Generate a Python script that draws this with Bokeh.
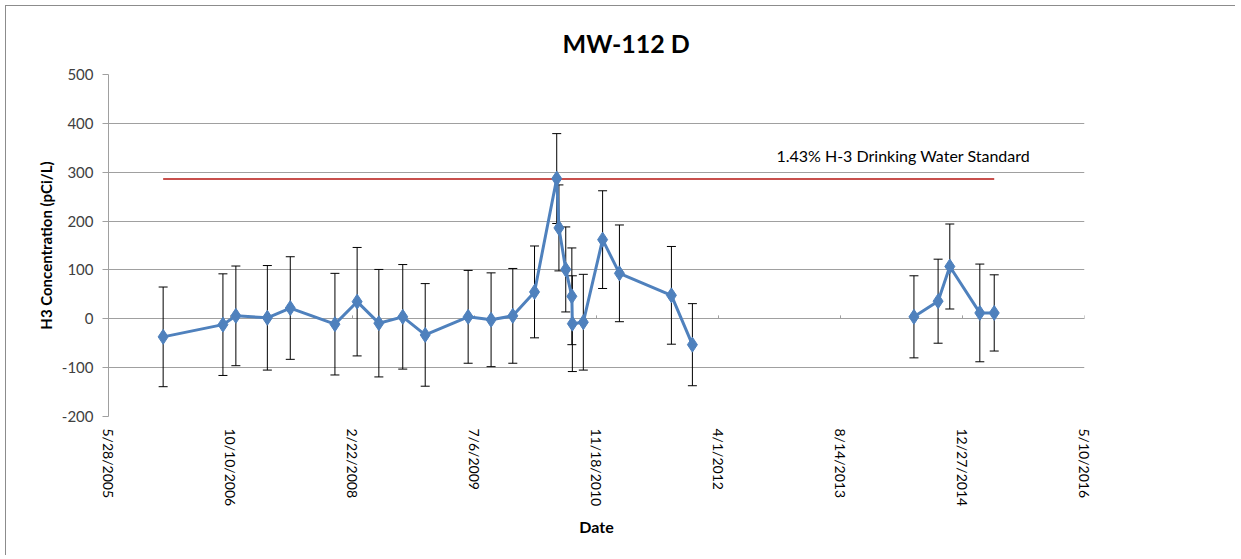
import numpy as np
import pandas as pd
from bokeh.plotting import figure
from bokeh.models import (ColumnDataSource, Whisker, TeeHead, Range1d, FixedTicker,
                          Label, CustomJSTickFormatter)
from bokeh.embed import file_html
from bokeh.resources import INLINE

# ---------------- data ----------------
title_text = "MW-112 D"
x_title = "Date"
y_title = "H3 Concentration (pCi/L)"
std_text = "1.43% H-3 Drinking  Water Standard"

sample_dates = ["2006-01-07", "2006-09-09", "2006-11-01", "2007-03-10", "2007-06-12",
                "2007-12-12", "2008-03-12", "2008-06-09", "2008-09-15", "2008-12-16",
                "2009-06-10", "2009-09-12", "2009-12-10", "2010-03-09", "2010-06-08",
                "2010-06-17", "2010-07-15", "2010-08-09", "2010-08-11", "2010-09-25",
                "2010-12-13", "2011-02-20", "2011-09-21", "2011-12-16",
                "2014-06-11", "2014-09-18", "2014-11-05", "2015-03-08", "2015-05-06"]
h3_values = [-37, -12, 6, 2, 22,
             -11, 35, -9, 4, -33,
             4, -2, 6, 55, 287,
             186, 101, 46, -10, -7,
             162, 93, 48, -53,
             4, 36, 107, 12, 12]
h3_errors = [102, 104, 102, 107, 105,
             104, 111, 110, 107, 105,
             95, 96, 97, 94, 92,
             88, 87, 99, 98, 98,
             100, 99, 100, 84,
             84, 86, 87, 100, 78]

std_value = 286
std_dates = ["2006-01-07", "2015-05-06"]
std_label_date = "2014-05-07"
std_label_value = 334

x_tick_labels = ["5/28/2005", "10/10/2006", "2/22/2008", "7/6/2009", "11/18/2010",
                 "4/1/2012", "8/14/2013", "12/27/2014", "5/10/2016"]
y_ticks = [-200, -100, 0, 100, 200, 300, 400, 500]

# ---------------- build ----------------
def to_ms(ts):
    return float(pd.Timestamp(ts).value // 10**6)

x_ms = [to_ms(d) for d in sample_dates]
x_tick_ms = [to_ms(pd.to_datetime(t, format="%m/%d/%Y")) for t in x_tick_labels]

src = ColumnDataSource(dict(
    x=x_ms,
    y=h3_values,
    upper=[v + e for v, e in zip(h3_values, h3_errors)],
    lower=[v - e for v, e in zip(h3_values, h3_errors)],
))

# the series line breaks where no samples were taken (gap of more than a year)
DAY_MS = 86400000.0
line_x, line_y = [], []
for i, (xx, yy) in enumerate(zip(x_ms, h3_values)):
    if i > 0 and xx - x_ms[i - 1] > 365 * DAY_MS:
        line_x.append(np.nan)
        line_y.append(np.nan)
    line_x.append(xx)
    line_y.append(yy)

FONT = "Lato"
GRID = "#a0a0a0"

p = figure(width=1230, height=550, output_backend="svg", toolbar_location=None,
           x_axis_type="datetime",
           x_range=Range1d(x_tick_ms[0], x_tick_ms[-1]),
           y_range=Range1d(y_ticks[0], y_ticks[-1]),
           min_border_left=102, min_border_right=152,
           min_border_top=68, min_border_bottom=140,
           title=title_text)

p.styles = {"border-top": "1px solid #8c8c8c", "border-left": "1px solid #8c8c8c",
            "margin-left": "5px", "margin-top": "5px"}

p.title.align = "left"
p.title.offset = 454
p.title.text_font = FONT
p.title.text_font_size = "25px"
p.title.text_font_style = "bold"
p.title.text_color = "#000000"
p.title.standoff = 33

p.outline_line_color = None
p.background_fill_color = "white"
p.border_fill_color = "white"

# grids
p.xgrid.grid_line_color = None
p.ygrid.grid_line_color = GRID
p.ygrid.grid_line_width = 1
p.ygrid.ticker = FixedTicker(ticks=y_ticks)

# y axis
ya = p.yaxis[0]
ya.ticker = FixedTicker(ticks=y_ticks)
ya.formatter = CustomJSTickFormatter(code="return String(Math.round(tick));")
ya.axis_line_color = GRID
ya.major_tick_line_color = GRID
ya.major_tick_out = 6
ya.major_tick_in = 0
ya.minor_tick_line_color = None
ya.major_label_text_font = FONT
ya.major_label_text_font_size = "15px"
ya.major_label_text_color = "#404040"
ya.major_label_standoff = 9
ya.axis_label = y_title
ya.axis_label_text_font = FONT
ya.axis_label_text_font_size = "15px"
ya.axis_label_text_font_style = "bold"
ya.axis_label_text_color = "#000000"
ya.axis_label_standoff = 4

# x axis (labels at the bottom)
xa = p.xaxis[0]
xa.ticker = FixedTicker(ticks=x_tick_ms)
xa.formatter = CustomJSTickFormatter(code="""
    const d = new Date(tick);
    return (d.getUTCMonth() + 1) + "/" + d.getUTCDate() + "/" + d.getUTCFullYear();
""")
xa.axis_line_color = None
xa.major_tick_line_color = None
xa.minor_tick_line_color = None
xa.major_label_orientation = -np.pi / 2
xa.major_label_text_font = FONT
xa.major_label_text_font_size = "14px"
xa.major_label_text_color = "#000000"
xa.major_label_standoff = 6
xa.axis_label = x_title
xa.axis_label_text_font = FONT
xa.axis_label_text_font_size = "16px"
xa.axis_label_text_font_style = "bold"
xa.axis_label_text_color = "#000000"
xa.axis_label_standoff = 8

# small tick marks on the zero line at x tick positions
p.segment(x0=x_tick_ms, y0=[0] * len(x_tick_ms), x1=x_tick_ms, y1=[7] * len(x_tick_ms),
          line_color=GRID, line_width=1)

# standard line
p.line(x=[to_ms(d) for d in std_dates], y=[std_value] * len(std_dates),
       line_color="#C8504D", line_width=2)
p.add_layout(Label(x=to_ms(std_label_date), y=std_label_value, text=std_text,
                   text_font=FONT, text_font_size="16px", text_color="#000000",
                   text_align="center", text_baseline="middle"))

# error bars
p.add_layout(Whisker(source=src, base="x", upper="upper", lower="lower",
                     line_color="#000000", line_width=1,
                     upper_head=TeeHead(size=9, line_color="#000000", line_width=1),
                     lower_head=TeeHead(size=9, line_color="#000000", line_width=1)))

# series
p.line(x=line_x, y=line_y, line_color="#4F81BD", line_width=3)
p.scatter(x="x", y="y", source=src, marker="diamond", size=15,
          fill_color="#4F81BD", line_color="#4F81BD")

open("out.html", "w").write(file_html(p, INLINE))
